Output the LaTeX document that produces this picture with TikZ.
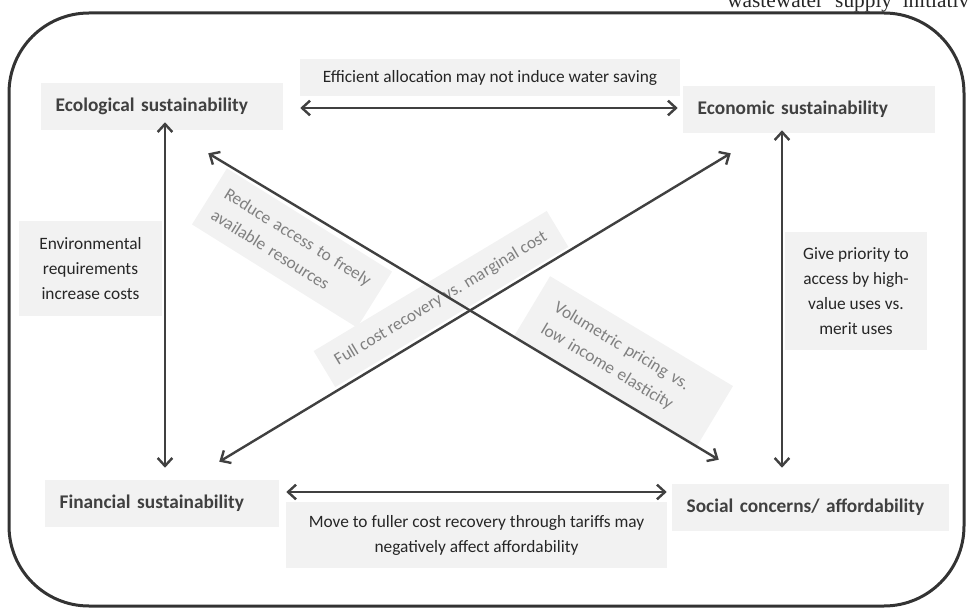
\documentclass[tikz,border=0pt]{standalone}
\usepackage{fontspec}
\setmainfont{Carlito}
\newfontfamily\pagefont{Liberation Serif}
\usepackage{tikz}
\usetikzlibrary{arrows.meta}
\definecolor{boxgrey}{HTML}{F2F2F2}
\definecolor{inkgrey}{HTML}{404040}
\definecolor{slantgrey}{HTML}{808080}
\tikzset{>={Straight Barb[length=6pt,width=11pt]}}
\tikzset{
  goal/.style={fill=boxgrey, text=inkgrey, font=\bfseries\fontsize{14.5}{17}\selectfont, align=left, inner xsep=11pt, inner ysep=0pt, minimum height=35.25pt, text width=#1},
  note/.style={fill=boxgrey, text=black!85, align=center, font=\fontsize{13}{18.75}\selectfont, inner sep=0pt},
  slant/.style={fill=boxgrey, text=slantgrey, align=left, font=\fontsize{13}{19}\selectfont, inner ysep=0pt},
  link/.style={<->, line width=1.8pt, color=inkgrey},
}
\begin{document}
\begin{tikzpicture}[x=0.75pt,y=-0.75pt,line cap=round,line join=round]
		\useasboundingbox (0,0) rectangle (968,610);
		\node[anchor=base west, font=\pagefont\fontsize{16}{18}\selectfont, text=black!85, inner sep=0pt] (page) at (727,7.5) {wastewater\hspace{9pt}supply\hspace{8pt}initiatives};
		\draw[line width=2.25pt, color=black!80, rounded corners=60pt] (9,13) rectangle (964,606);
		\node[slant, rotate=-32, text width=128pt, inner xsep=9pt, minimum height=49.5pt] (reduce) at (292,248) {Reduce access to freely\\available resources};
		\node[slant, rotate=31, inner xsep=0pt, minimum width=204pt, minimum height=31.5pt] (full) at (441,299) {Full cost recovery vs. marginal cost};
		\node[slant, rotate=-31, text width=130pt, inner xsep=15pt, minimum height=54pt] (volum) at (623,362) {Volumetric pricing vs.\\low income elasticity};
		\node[goal=159.5pt] (eco) at (162,106.5) {Ecological sustainability};
		\node[goal=167pt] (econ) at (809,109.5) {Economic sustainability};
		\node[goal=153.5pt] (fin) at (162,503.5) {Financial sustainability};
		\node[goal=185.75pt] (soc) at (810.5,507.5) {Social concerns/ affordability};
		\node[note, minimum width=285pt, minimum height=27.75pt] (eff) at (490,77.5) {Efficient allocation may not induce water saving};
		\node[note, minimum width=285.75pt, minimum height=49.5pt] (move) at (476.5,535) {Move to fuller cost recovery through tariffs may\\negatively affect affordability};
		\node[note, minimum width=107.25pt, minimum height=71.25pt] (env) at (90.5,268.5) {Environmental\\requirements\\increase costs};
		\node[note, minimum width=106.5pt, minimum height=88.5pt] (prio) at (856,291) {Give priority to\\access by high-\\value uses vs.\\merit uses};
		\draw[link] ([shift={(17,1.5)}]eco.east) -- ([shift={(-5,-1.5)}]econ.west);
		\draw[link] ([shift={(7,-11.5)}]fin.east) -- ([shift={(-5,-15.5)}]soc.west);
		\draw[link] ([shift={(3,-8)}]eco.south) -- ([shift={(3,-12)}]fin.north);
		\draw[link] ([shift={(-27,-3)}]econ.south) -- ([shift={(-28.5,-16)}]soc.north);
		\draw[link] ([shift={(-75,23)}]eco.south east) -- ([shift={(47,-24)}]soc.north west);
		\draw[link] ([shift={(-60,-18)}]fin.north east) -- ([shift={(48,20)}]econ.south west);
\end{tikzpicture}
\end{document}
